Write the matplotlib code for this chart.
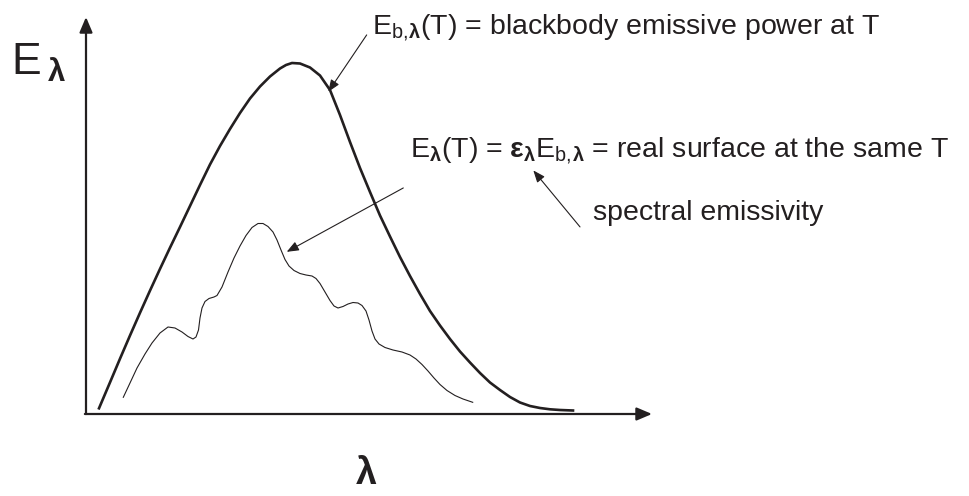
import matplotlib
matplotlib.use('Agg')
import matplotlib.pyplot as plt

plt.rcParams['font.family'] = ['Liberation Sans', 'DejaVu Sans']
plt.rcParams['mathtext.fontset'] = 'custom'
plt.rcParams['mathtext.rm'] = 'Liberation Sans'
plt.rcParams['mathtext.bf'] = 'Liberation Sans:bold'
plt.rcParams['mathtext.it'] = 'Liberation Sans:italic'

INK = '#231f20'

# in image units (x right, y down); origin of the axes at (86, 414)
X0, Y0, XS, YS = 86, 414, 56.6, 351

# blackbody emissive power curve
bb_x = [99, 110, 120, 130, 140, 150, 160, 170, 180, 190, 200, 210, 220, 230,
        240, 250, 260, 270, 280, 286, 292, 300, 310, 320, 330, 340, 350, 360,
        370, 380, 390, 400, 410, 420, 430, 440, 450, 460, 470, 480, 490, 500,
        510, 520, 530, 540, 550, 560, 573]
bb_y = [408.3, 382.4, 358.7, 335.5, 312.8, 290.6, 268.9, 247.7, 227, 206,
        185, 164.5, 146, 129, 113, 98.5, 86.5, 76.5, 68.5, 65, 63, 63.5, 67.5,
        75.5, 90, 115, 142, 168, 192, 215.5, 236.5, 257, 276, 294, 311, 325.5,
        339, 351.5, 362.5, 373, 382.5, 390, 397, 402.5, 406, 408, 409.3, 410,
        410.5]

# real surface curve (wavy)
real_x = [123.3, 130, 137, 145, 152, 160, 168, 175, 182, 188, 193, 196, 198.5,
          200, 202, 205, 209, 214, 217, 222, 228, 234, 240, 246, 252, 258, 263,
          268, 273, 277, 281, 285, 289, 294, 300, 306, 312, 316, 320, 325, 330,
          334, 338, 343, 348, 353, 358, 362, 366, 369, 372, 375, 379, 385, 393,
          402, 410, 416, 422, 428, 434, 440, 447, 455, 463, 472.7]
real_y = [397.3, 383, 368, 354, 343, 333, 327, 328, 332, 336.5, 339, 337, 330,
          318, 308, 301.5, 298.5, 297, 295.5, 287, 272, 258, 246, 235.5, 227.5,
          223.5, 223.5, 226.5, 232, 240, 250, 259.5, 266, 270.5, 273.5, 275,
          276, 278.5, 283.5, 292, 300.5, 306, 308, 306.5, 304, 302.5, 303,
          305.5, 311, 320, 331, 339, 344, 347.5, 350, 352, 355, 359, 364.5,
          371, 378, 384.5, 390.5, 395.5, 399, 402.3]

bb_lam = [(v - X0) / XS for v in bb_x]
bb_E = [(Y0 - v) / YS for v in bb_y]
real_lam = [(v - X0) / XS for v in real_x]
real_E = [(Y0 - v) / YS for v in real_y]

label_bb = r'E$_{\mathrm{b,}\!\mathbf{λ}}$(T) = blackbody emissive power at T'
label_real = (r'E$_{\mathbf{λ}}$(T) = $\mathbf{ε}_{\mathbf{λ}}$'
              r'E$_{\mathrm{b,}\!\mathbf{λ}}$ = real surface at the same T')
label_eps = 'spectral emissivity'

fig = plt.figure(figsize=(9.69, 4.96), dpi=100)
ax = fig.add_axes([0, 0, 1, 1])
ax.set_xlim(-X0 / XS, (969 - X0) / XS)
ax.set_ylim(-(496 - Y0) / YS, Y0 / YS)
ax.axis('off')

# axes with arrow heads
axis_arrow = dict(arrowstyle='-|>,head_length=0.4,head_width=0.17',
                  mutation_scale=23, lw=1.6, color=INK, shrinkA=0, shrinkB=0)
ax.annotate('', xy=(0, 1.131), xytext=(0, 0), arrowprops=axis_arrow)
ax.annotate('', xy=(10.0, 0), xytext=(-0.02, 0), arrowprops=axis_arrow)

ax.plot(bb_lam, bb_E, color=INK, lw=1.9, solid_joinstyle='round')
ax.plot(real_lam, real_E, color=INK, lw=0.8, solid_joinstyle='round')

small_arrow = dict(arrowstyle='-|>,head_length=0.4,head_width=0.16',
                   mutation_scale=18, lw=0.8, color=INK, shrinkA=0, shrinkB=0)
ax.annotate('', xy=(4.281, 0.918), xytext=(4.959, 1.080), arrowprops=small_arrow)
ax.annotate('', xy=(3.546, 0.462), xytext=(5.606, 0.644), arrowprops=small_arrow)
ax.annotate('', xy=(7.903, 0.694), xytext=(8.728, 0.533), arrowprops=small_arrow)

ax.text(5.053, 1.083, label_bb, fontsize=20.5, color=INK, ha='left', va='baseline')
ax.text(5.724, 0.732, label_real, fontsize=20.5, color=INK, ha='left', va='baseline')
ax.text(8.958, 0.553, label_eps, fontsize=20.5, color=INK, ha='left', va='baseline')

ax.text(-1.325, 0.966, r'E$\,_{\mathbf{λ}}$', fontsize=32, color=INK,
        ha='left', va='baseline')
ax.text(4.947, -0.172, 'λ', fontsize=27, fontweight='bold', color=INK,
        ha='center', va='center')

fig.savefig('out.png', dpi=100)
